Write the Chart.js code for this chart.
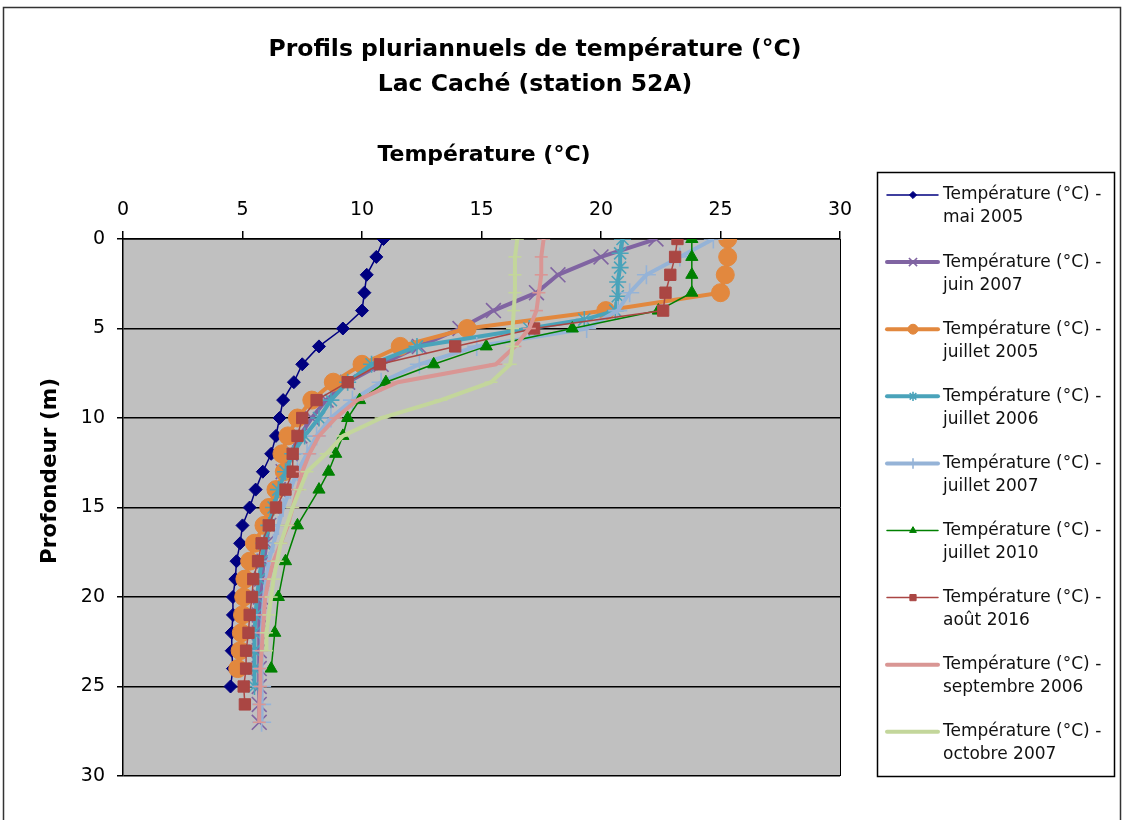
<!DOCTYPE html>
<html>
<head>
<meta charset="utf-8">
<script src="https://cdn.jsdelivr.net/npm/chart.js@4.4.0/dist/chart.umd.min.js"></script>
<style>
  html, body { margin: 0; padding: 0; background: #fff; }
</style>
</head>
<body>
<canvas id="chart" width="1124" height="820"></canvas>
<script>
// profondeurs (m) et températures (°C)
const depthMai2005 = [0,1,2,3,4,5,6,7,8,9,10,11,12,13,14,15,16,17,18,19,20,21,22,23,24,25];
const tempMai2005  = [10.9,10.6,10.2,10.1,10.0,9.2,8.2,7.5,7.15,6.7,6.55,6.4,6.2,5.85,5.55,5.3,5.0,4.9,4.75,4.7,4.6,4.6,4.55,4.55,4.6,4.5];

const depthJuin2007 = [0,1,2,3,4,5,6,7,8,9,10,11,12,13,14,15,16,17,18,19,20,21,22,23,24,25,26,27];
const tempJuin2007  = [22.3,20.0,18.2,17.3,15.5,14.1,12.4,10.8,9.4,8.5,7.9,7.4,7.0,6.7,6.5,6.3,6.1,6.0,5.9,5.8,5.75,5.7,5.7,5.7,5.7,5.7,5.7,5.7];

const depthJuil2005 = [0,1,2,3,4,5,6,7,8,9,10,11,12,13,14,15,16,17,18,19,20,21,22,23,24];
const tempJuil2005  = [25.3,25.3,25.2,25.0,20.2,14.4,11.6,10.0,8.8,7.9,7.3,6.9,6.65,6.75,6.4,6.1,5.9,5.5,5.3,5.1,5.05,5.0,4.95,4.9,4.8];

const depthJuil2006 = [0,0.8,1.6,2.4,3.2,4,4.5,5,6,7,8,9,10,11,12,13,14,15,16,17,18,19,20,21,22,23,24,25];
const tempJuil2006  = [20.9,20.8,20.8,20.7,20.7,20.6,19.3,17.0,12.3,10.4,9.4,8.7,8.2,7.6,7.1,6.8,6.5,6.3,6.1,5.9,5.8,5.7,5.6,5.55,5.5,5.5,5.5,5.5];

const depthJuil2007 = [0,1,2,3,4,5,6,7,8,9,10,11,12,13,14,15,16,17,18,19,20,21,22,23,24,25,26,27];
const tempJuil2007  = [24.7,23.3,21.9,21.2,20.7,19.4,14.8,12.4,10.8,9.6,8.7,8.1,7.7,7.3,7.0,6.7,6.5,6.3,6.1,6.0,5.9,5.85,5.8,5.8,5.8,5.8,5.8,5.8];

const depthJuil2010 = [0,1,2,3,4,5,6,7,8,9,10,11,12,13,14,16,18,20,22,24];
const tempJuil2010  = [23.8,23.8,23.8,23.8,22.4,18.8,15.2,13.0,11.0,9.9,9.4,9.2,8.9,8.6,8.2,7.3,6.8,6.5,6.35,6.2];

const depthAout2016 = [0,1,2,3,4,5,6,7,8,9,10,11,12,13,14,15,16,17,18,19,20,21,22,23,24,25,26];
const tempAout2016  = [23.2,23.1,22.9,22.7,22.6,17.2,13.9,10.75,9.4,8.1,7.5,7.3,7.1,7.1,6.8,6.4,6.1,5.8,5.65,5.45,5.4,5.3,5.25,5.15,5.15,5.05,5.1];

const depthSept2006 = [0,1,2,3,4,5,6,7,8,9,10,11,12,13,14,15,16,17,18,19,20,21,22,23,24,25,26,27];
const tempSept2006  = [17.6,17.5,17.5,17.4,17.3,17.0,16.4,15.6,11.5,9.8,8.9,8.2,7.8,7.5,7.3,7.1,6.9,6.6,6.3,6.1,5.95,5.9,5.85,5.8,5.75,5.75,5.7,5.7];

const depthOct2007 = [0,1,2,3,4,5,6,7,8,9,10,11,12,13,14,15,16,17,18,19,20,21,22,23];
const tempOct2007  = [16.5,16.4,16.4,16.4,16.35,16.3,16.3,16.2,15.4,13.3,10.8,9.2,8.5,7.7,7.4,7.1,6.85,6.6,6.45,6.3,6.2,6.1,6.0,6.0];

const seriesNames = ['mai 2005','juin 2007','juillet 2005','juillet 2006','juillet 2007',
                     'juillet 2010','août 2016','septembre 2006','octobre 2007'];
const depthTicks = [0,5,10,15,20,25,30];
const tempTicks  = [0,5,10,15,20,25,30];

const FONT = "'DejaVu Sans', sans-serif";

function pts(depths, temps) {
    return depths.map(function(d, i) { return { x: temps[i], y: d }; });
}

function serie(i, depths, temps, color, width, style, radius, filled) {
    return {
        label: 'Température (°C) - ' + seriesNames[i],
        data: pts(depths, temps),
        borderColor: color,
        backgroundColor: filled ? color : 'rgba(0,0,0,0)',
        borderWidth: width,
        pointStyle: style,
        pointRadius: radius,
        pointBorderWidth: filled ? 1 : 1.6,
        pointBorderColor: color,
        pointBackgroundColor: filled ? color : 'rgba(0,0,0,0)',
        showLine: true,
        tension: 0,
        order: 9 - i
    };
}

const datasets = [
    serie(0, depthMai2005, tempMai2005, '#000080', 1.5, 'rectRot', 6.5, true),
    serie(1, depthJuin2007, tempJuin2007, '#8064A2', 4, 'crossRot', 10.5, false),
    serie(2, depthJuil2005, tempJuil2005, '#E2883E', 4, 'circle', 9, true),
    serie(3, depthJuil2006, tempJuil2006, '#4AA3BA', 4, 'star', 8.5, false),
    serie(4, depthJuil2007, tempJuil2007, '#95B3D7', 4, 'cross', 9.5, false),
    serie(5, depthJuil2010, tempJuil2010, '#008000', 1.5, 'triangle', 7, true),
    serie(6, depthAout2016, tempAout2016, '#AA4643', 1.5, 'rect', 8, true),
    serie(7, depthSept2006, tempSept2006, '#D99694', 4, 'line', 6.5, false),
    serie(8, depthOct2007, tempOct2007, '#C3D69B', 4, 'line', 6.5, false)
];

// fond gris, cadre, titres et légende dessinés à la main
const decor = {
    id: 'decor',
    beforeDraw: function(chart) {
        const ctx = chart.ctx, a = chart.chartArea;
        ctx.save();
        ctx.fillStyle = '#fff';
        ctx.fillRect(0, 0, chart.width, chart.height);
        ctx.fillStyle = '#C0C0C0';
        ctx.fillRect(a.left, a.top, a.right - a.left, a.bottom - a.top);
        ctx.strokeStyle = '#333';
        ctx.lineWidth = 1.5;
        ctx.strokeRect(3.5, 7.5, 1117, 840);
        ctx.restore();
    },
    afterDraw: function(chart) {
        const ctx = chart.ctx, a = chart.chartArea;
        ctx.save();
        ctx.strokeStyle = '#000';
        ctx.lineWidth = 1;
        ctx.beginPath();
        ctx.moveTo(a.right + 0.5, a.top);
        ctx.lineTo(a.right + 0.5, a.bottom);
        ctx.stroke();

        ctx.fillStyle = '#000';
        ctx.textAlign = 'center';
        ctx.textBaseline = 'middle';
        ctx.font = 'bold 23.5px ' + FONT;
        ctx.fillText('Profils pluriannuels de température (°C)', 535, 50);
        ctx.fillText('Lac Caché (station 52A)', 535, 85);
        ctx.font = 'bold 22px ' + FONT;
        ctx.fillText('Température (°C)', 484, 155);

        ctx.save();
        ctx.translate(50, 471);
        ctx.rotate(-Math.PI / 2);
        ctx.font = 'bold 21.5px ' + FONT;
        ctx.fillText('Profondeur (m)', 0, 0);
        ctx.restore();

        // légende
        ctx.fillStyle = '#fff';
        ctx.fillRect(877, 172, 237, 604);
        ctx.strokeStyle = '#000';
        ctx.lineWidth = 1.5;
        ctx.strokeRect(877.5, 172.5, 237, 604);

        ctx.textAlign = 'left';
        ctx.font = '17px ' + FONT;
        chart.data.datasets.forEach(function(ds, i) {
            const y = 195 + i * 67.1;
            ctx.strokeStyle = ds.borderColor;
            ctx.lineWidth = ds.borderWidth;
            ctx.lineCap = 'round';
            ctx.beginPath();
            ctx.moveTo(887, y);
            ctx.lineTo(938, y);
            ctx.stroke();
            ctx.lineCap = 'butt';
            if (ds.pointStyle !== 'line') {
                ctx.fillStyle = ds.pointBackgroundColor;
                ctx.strokeStyle = ds.pointBorderColor;
                ctx.lineWidth = ds.pointBorderWidth;
                Chart.helpers.drawPoint(ctx, {
                    pointStyle: ds.pointStyle, rotation: 0,
                    radius: ds.pointRadius * 0.55, borderWidth: ds.pointBorderWidth
                }, 913, y);
            }
            ctx.fillStyle = '#111';
            ctx.fillText('Température (°C) -', 943, y);
            ctx.fillText(seriesNames[i], 943, y + 23);
        });
        ctx.restore();
    }
};

const ctx = document.getElementById('chart').getContext('2d');
const myChart = new Chart(ctx, {
    type: 'scatter',
    data: { datasets: datasets },
    options: {
        responsive: false,
        animation: false,
        layout: { padding: { left: 0, top: 0, right: 284, bottom: 44 } },
        plugins: {
            legend: { display: false },
            title: { display: false },
            tooltip: { enabled: false }
        },
        scales: {
            x: {
                type: 'linear',
                position: 'top',
                min: 0,
                max: 30,
                afterBuildTicks: function(scale) {
                    scale.ticks = tempTicks.map(function(v) { return { value: v }; });
                },
                afterFit: function(scale) { scale.height = 239; },
                grid: { drawOnChartArea: false, drawTicks: true, tickLength: 8, color: '#000', lineWidth: 1.5 },
                border: { display: true, color: '#000', width: 1.5 },
                ticks: { color: '#000', padding: 10, font: { family: FONT, size: 19 } }
            },
            y: {
                type: 'linear',
                reverse: true,
                min: 0,
                max: 30,
                afterBuildTicks: function(scale) {
                    scale.ticks = depthTicks.map(function(v) { return { value: v }; });
                },
                afterFit: function(scale) { scale.width = 123; },
                grid: { drawOnChartArea: true, drawTicks: true, tickLength: 6, color: '#000', lineWidth: 1.5 },
                border: { display: true, color: '#000', width: 1.5 },
                ticks: { color: '#000', padding: 12, font: { family: FONT, size: 19 } }
            }
        }
    },
    plugins: [decor]
});
</script>
</body>
</html>
